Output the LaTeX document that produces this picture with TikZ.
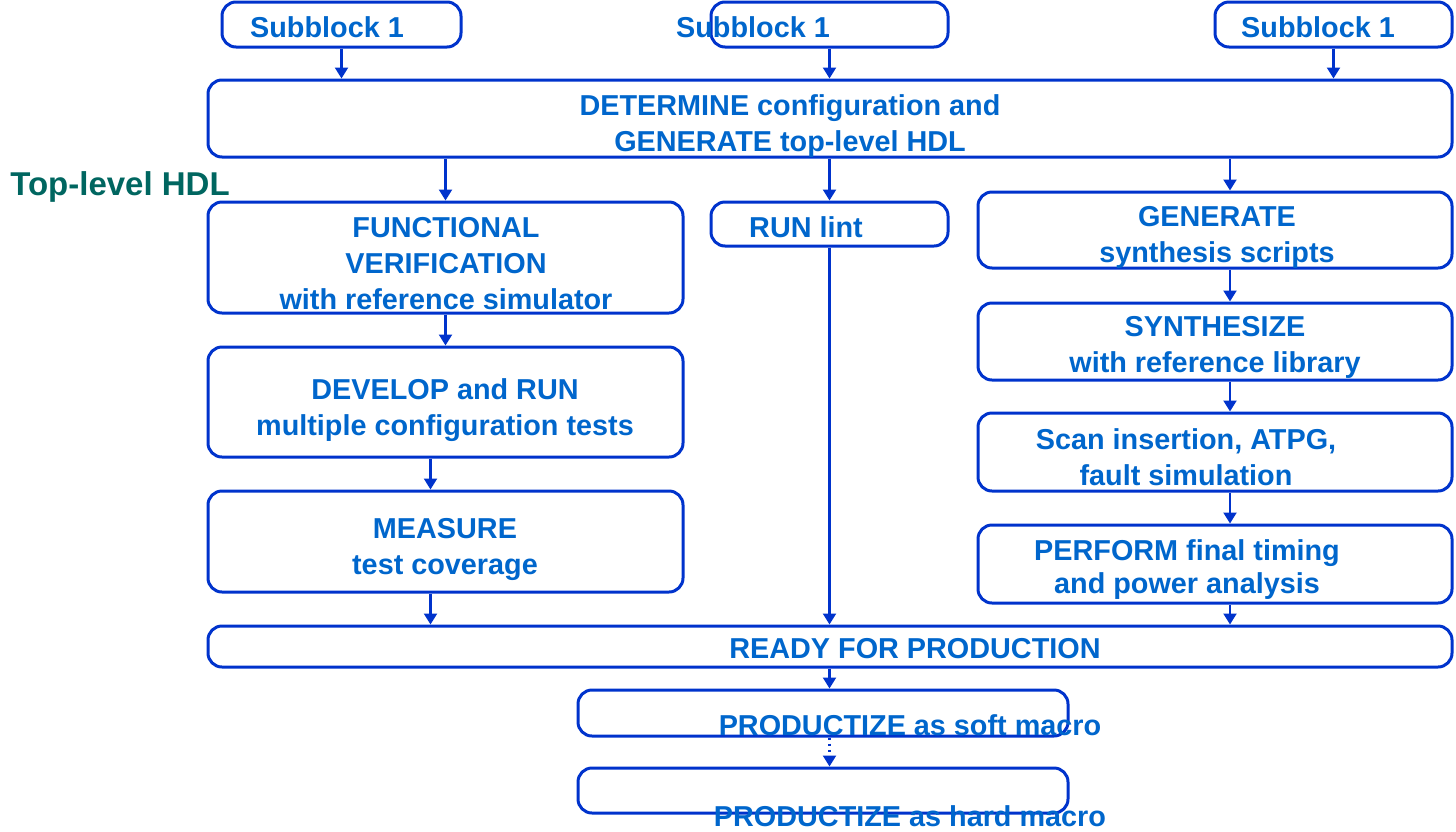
\documentclass[tikz,border=0pt]{standalone}
\usepackage{fontspec}
\setmainfont{Liberation Sans}
\usetikzlibrary{arrows.meta,positioning}
\definecolor{kant}{RGB}{0,51,204}
\definecolor{skrift}{RGB}{0,102,204}
\definecolor{gronn}{RGB}{0,102,96}
\tikzset{
    %Define style for boxes
    boks/.style={
           rectangle,
           rounded corners=7pt,
           draw=kant, line width=1.5pt,
           inner sep=0pt},
    % Define style for the texts (anchored on the base of the last line)
    tekst/.style={
           text=skrift,
           font=\fontsize{14.4}{18}\selectfont\bfseries,
           align=center,
           anchor=base,
           inner sep=0pt},
    % Define arrow style
    pil/.style={
           -{Triangle[length=5.5pt,width=6.5pt]},
           draw=kant,
           line width=1.1pt}
}
% box from its centre (in px) and its size (in pt)
\newcommand*{\bnode}[5]{\node[boks, minimum width=#4, minimum height=#5] (#1) at (#2,#3) {};}

\begin{document}
\begin{tikzpicture}[x=0.5pt,y=-0.5pt]
\useasboundingbox (0,0) rectangle (1456,831);

% First the boxes
\bnode{sb1}{341.5}{24.5}{119.5pt}{22.5pt}
\bnode{sb2}{829.5}{24.5}{118.5pt}{22.5pt}
\bnode{sb3}{1333.5}{24.5}{118.5pt}{22.5pt}
\bnode{det}{830}{118.5}{622pt}{38.5pt}
\bnode{fv}{445.5}{257.5}{237.5pt}{55.5pt}
\bnode{lint}{829.5}{224}{118.5pt}{22pt}
\bnode{gen}{1215}{230}{237pt}{38pt}
\bnode{dev}{445.5}{402}{237.5pt}{55pt}
\bnode{meas}{445.5}{541.5}{237.5pt}{50.5pt}
\bnode{syn}{1215}{341.5}{237pt}{38.5pt}
\bnode{scan}{1215}{452}{237pt}{39pt}
\bnode{perf}{1215}{564}{237pt}{39pt}
\bnode{ready}{830}{646.5}{622pt}{20.5pt}
\bnode{soft}{823}{713}{245pt}{23pt}
\bnode{hard}{823}{790.5}{245pt}{22.5pt}

% Now the texts
\node[tekst] (sb1T) at (327,37) {Subblock 1};
\node[tekst] (sb2T) at (753,37) {Subblock 1};
\node[tekst] (sb3T) at (1318,37) {Subblock 1};
\node[tekst] (detT) at (790,151) {DETERMINE configuration and\\GENERATE top-level HDL};
\node[tekst, text=gronn, font=\fontsize{16.5}{18}\selectfont\bfseries] (hdlT) at (120,195) {Top-level HDL};
\node[tekst] (fvT) at (446,309) {FUNCTIONAL\\VERIFICATION\\with reference simulator};
\node[tekst] (lintT) at (806,237) {RUN lint};
\node[tekst] (genT) at (1217,262) {GENERATE\\synthesis scripts};
\node[tekst] (devT) at (445,435) {DEVELOP and RUN\\multiple configuration tests};
\node[tekst] (measT) at (445,574) {MEASURE\\test coverage};
\node[tekst] (synT) at (1215,372) {SYNTHESIZE\\with reference library};
\node[tekst] (scanT) at (1186,485) {Scan insertion, ATPG,\\fault simulation};
\node[tekst, font=\fontsize{14.4}{16.5}\selectfont\bfseries] (perfT) at (1187,593) {PERFORM final timing\\and power analysis};
\node[tekst] (readyT) at (915,658) {READY FOR PRODUCTION};
\node[tekst] (softT) at (910,735) {PRODUCTIZE as soft macro};
\node[tekst] (hardT) at (910,826) {PRODUCTIZE as hard macro};

% Now connect the boxes
\draw[pil] (sb1.south) -- (sb1.south |- det.north);
\draw[pil] (sb2.south) -- (sb2.south |- det.north);
\draw[pil] (sb3.south) -- (sb3.south |- det.north);
\draw[pil] (fv.north |- det.south) -- (fv.north);
\draw[pil] (lint.north |- det.south) -- (lint.north);
\draw[pil] ([xshift=15*0.5pt]gen.north |- det.south) -- ([xshift=15*0.5pt]gen.north);
\draw[pil] (fv.south) -- (dev.north);
\draw[pil] ([xshift=-15*0.5pt]dev.south) -- ([xshift=-15*0.5pt]meas.north);
\draw[pil] ([xshift=-15*0.5pt]meas.south) -- ([xshift=-15*0.5pt]meas.south |- ready.north);
\draw[pil] (lint.south) -- (lint.south |- ready.north);
\draw[pil] ([xshift=15*0.5pt]gen.south) -- ([xshift=15*0.5pt]syn.north);
\draw[pil] ([xshift=15*0.5pt]syn.south) -- ([xshift=15*0.5pt]scan.north);
\draw[pil] ([xshift=15*0.5pt]scan.south) -- ([xshift=15*0.5pt]perf.north);
\draw[pil] ([xshift=15*0.5pt]perf.south) -- ([xshift=15*0.5pt]perf.south |- ready.north);
\draw[pil] (lint.south |- ready.south) -- (lint.south |- soft.north);
\draw[pil, dotted] (lint.south |- soft.south) -- (lint.south |- hard.north);
\end{tikzpicture}
\end{document}
